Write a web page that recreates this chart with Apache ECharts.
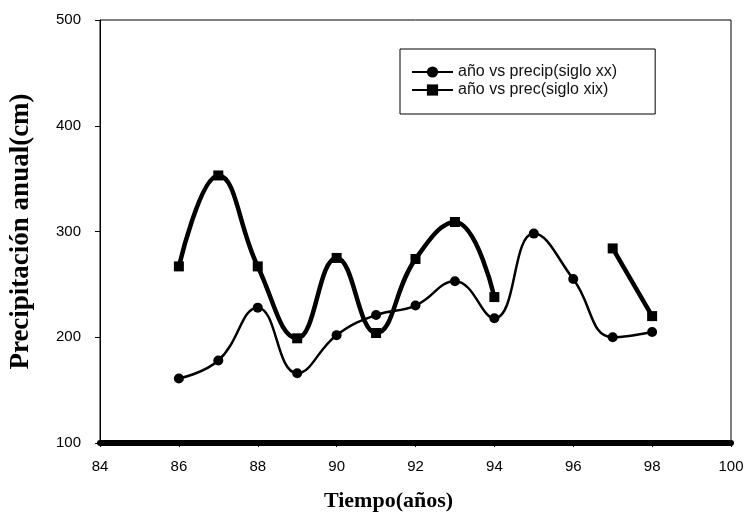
<!DOCTYPE html>
<html>
<head>
<meta charset="utf-8">
<script src="https://cdn.jsdelivr.net/npm/echarts@6/dist/echarts.min.js"></script>
<style>
  html, body { margin: 0; padding: 0; background: #fff; }
  #chart { width: 746px; height: 515px; }
</style>
</head>
<body>
<div id="chart"></div>
<script>
const years = [86, 87, 88, 89, 90, 91, 92, 93, 94, 95, 96, 97, 98]
const precipXX = [161, 178, 228, 166, 202, 221, 230, 253, 218, 298, 255, 200, 205]
const precXIX = [267, 353, 267, 199, 275, 204, 274, 309, 238, null, null, 284, 220]
const xTicks = [84, 86, 88, 90, 92, 94, 96, 98, 100]
const yTicks = [100, 200, 300, 400, 500]

const chart = echarts.init(document.getElementById('chart'))

chart.setOption({
  backgroundColor: '#fff',
  animation: false,
  grid: {
    left: 100, right: 15, top: 20, bottom: 72,
    outerBoundsMode: 'none', containLabel: false,
    show: true, borderColor: '#000', borderWidth: 1,
  },
  legend: {
    orient: 'vertical',
    left: 400,
    top: 49,
    padding: [15, 38, 16, 11],
    itemGap: 2,
    itemWidth: 41,
    itemHeight: 14,
    borderColor: '#000',
    borderWidth: 1,
    textStyle: { fontFamily: 'Liberation Sans', fontSize: 16, color: '#111' },
  },
  xAxis: {
    type: 'value',
    min: xTicks[0],
    max: xTicks[xTicks.length - 1],
    interval: 2,
    name: 'Tiempo(años)',
    nameLocation: 'middle',
    nameGap: 47,
    nameTextStyle: { fontFamily: 'Liberation Serif', fontWeight: 'bold', fontSize: 22, color: '#000', padding: [0, 54, 0, 0] },
    axisLine: { lineStyle: { color: '#000', width: 6 } },
    axisTick: { show: true, length: 4, lineStyle: { color: '#000' } },
    axisLabel: { fontFamily: 'Liberation Sans', fontSize: 15, color: '#000', margin: 16 },
    splitLine: { show: false },
  },
  yAxis: {
    type: 'value',
    min: yTicks[0],
    max: yTicks[yTicks.length - 1],
    interval: 100,
    name: 'Precipitación anual(cm)',
    nameLocation: 'middle',
    nameGap: 65,
    nameTextStyle: { fontFamily: 'Liberation Serif', fontWeight: 'bold', fontSize: 27, color: '#000' },
    axisLine: { show: true, lineStyle: { color: '#000', width: 1 } },
    axisTick: { show: true, length: 5, lineStyle: { color: '#000' } },
    axisLabel: { fontFamily: 'Liberation Sans', fontSize: 15, color: '#000', margin: 19 },
    splitLine: { show: false },
  },
  series: [
    {
      name: 'año vs precip(siglo xx)',
      type: 'line',
      data: years.map((y, i) => [y, precipXX[i]]),
      smooth: 0.45,
      symbol: 'circle',
      symbolSize: 10,
      itemStyle: { color: '#000' },
      lineStyle: { color: '#000', width: 2.5 },
    },
    {
      name: 'año vs prec(siglo xix)',
      type: 'line',
      data: years.map((y, i) => [y, precXIX[i]]),
      smooth: 0.45,
      connectNulls: false,
      symbol: 'rect',
      symbolSize: 10,
      itemStyle: { color: '#000' },
      lineStyle: { color: '#000', width: 4.5 },
    },
  ],
})
</script>
</body>
</html>
